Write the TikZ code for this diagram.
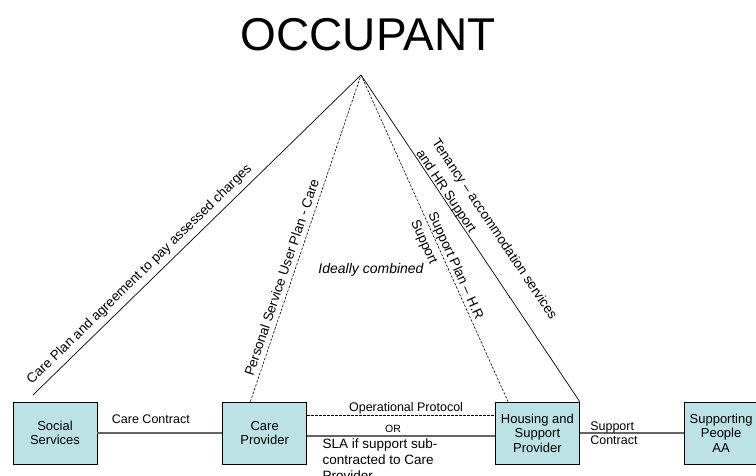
\documentclass[tikz,border=0pt]{standalone}
\usepackage{fontspec}
\setmainfont{Liberation Sans}
\usetikzlibrary{positioning}
\definecolor{boxfill}{RGB}{188,226,229}
\definecolor{linkgray}{RGB}{100,100,100}

\begin{document}
\begin{tikzpicture}[
x=1pt, y=-1pt,
party/.style={
  draw=black,
  fill=boxfill,
  line width=0.7pt,
  minimum width=84pt,
  minimum height=62pt,
  inner sep=2pt,
  align=center,
  font=\fontsize{13}{14.5}\selectfont
  },
link/.style={
  draw=linkgray,
  line width=1.1pt
  },
plan/.style={
  draw=black,
  line width=0.7pt
  },
dashplan/.style={
  draw=black,
  line width=0.6pt,
  dash pattern=on 2.5pt off 1.5pt
  },
lbl/.style={
  inner sep=1pt,
  font=\fontsize{12.5}{14.5}\selectfont
  },
slopelbl/.style={
  inner sep=1pt,
  sloped,
  align=left,
  font=\fontsize{13.5}{19}\selectfont
  }
]
\useasboundingbox (0,0) rectangle (756,475);

\node[font=\fontsize{46}{50}\selectfont] (occ) at (368,35) {OCCUPANT};
\coordinate (apex) at (361,75);

% the four parties along the bottom
\node[party] (ss) at (55,433) {Social\\Services};
\node[party, right=125pt of ss] (cp) {Care\\Provider};
\node[party, right=188pt of cp] (hsp) {Housing and\\Support\\Provider};
\node[party, minimum width=74pt, right=104pt of hsp] (spa) {Supporting\\People\\AA};
\coordinate (ssend) at (33,395);

% contracts between the parties
\draw[link] (ss) -- node[lbl, midway, yshift=14pt, xshift=-9pt] {Care Contract} (cp);
\draw[dashplan] ([yshift=18pt]cp.east) -- node[lbl, midway, above, xshift=5pt] {Operational Protocol} ([yshift=18pt]hsp.west);
\draw[link] ([yshift=-3pt]cp.east) -- node[lbl, midway, yshift=7pt, xshift=-8pt, font=\fontsize{10.5}{12}\selectfont] {OR}
  node[lbl, at start, anchor=north west, xshift=14pt, yshift=-1pt, align=left, font=\fontsize{13.5}{16}\selectfont] {SLA if support sub-\\contracted to Care\\Provider} ([yshift=-3pt]hsp.west);
\draw[link] (hsp) -- node[lbl, at start, anchor=west, xshift=9pt, align=left] {Support\\Contract} (spa);

% lines up to the occupant
\draw[plan] (ssend) -- node[slopelbl, pos=0.35, above=4pt] {Care Plan and agreement to pay assessed charges} (apex);
\draw[dashplan] ([xshift=28pt]cp.north west) -- node[slopelbl, pos=0.37, above=4pt] {Personal Service User Plan - Care} (apex);
\draw[dashplan] (apex) -- node[slopelbl, pos=0.594, yshift=-2pt] {Support Plan – H.R\\Support} ([xshift=13pt]hsp.north west);
\draw[plan] (apex) -- node[slopelbl, pos=0.515, yshift=15pt] {Tenancy – accommodation services\\and HR Support} (hsp.north east);

\node[font=\fontsize{14}{16}\selectfont\itshape] (ideal) at (371,270) {Ideally combined};

\end{tikzpicture}
\end{document}
